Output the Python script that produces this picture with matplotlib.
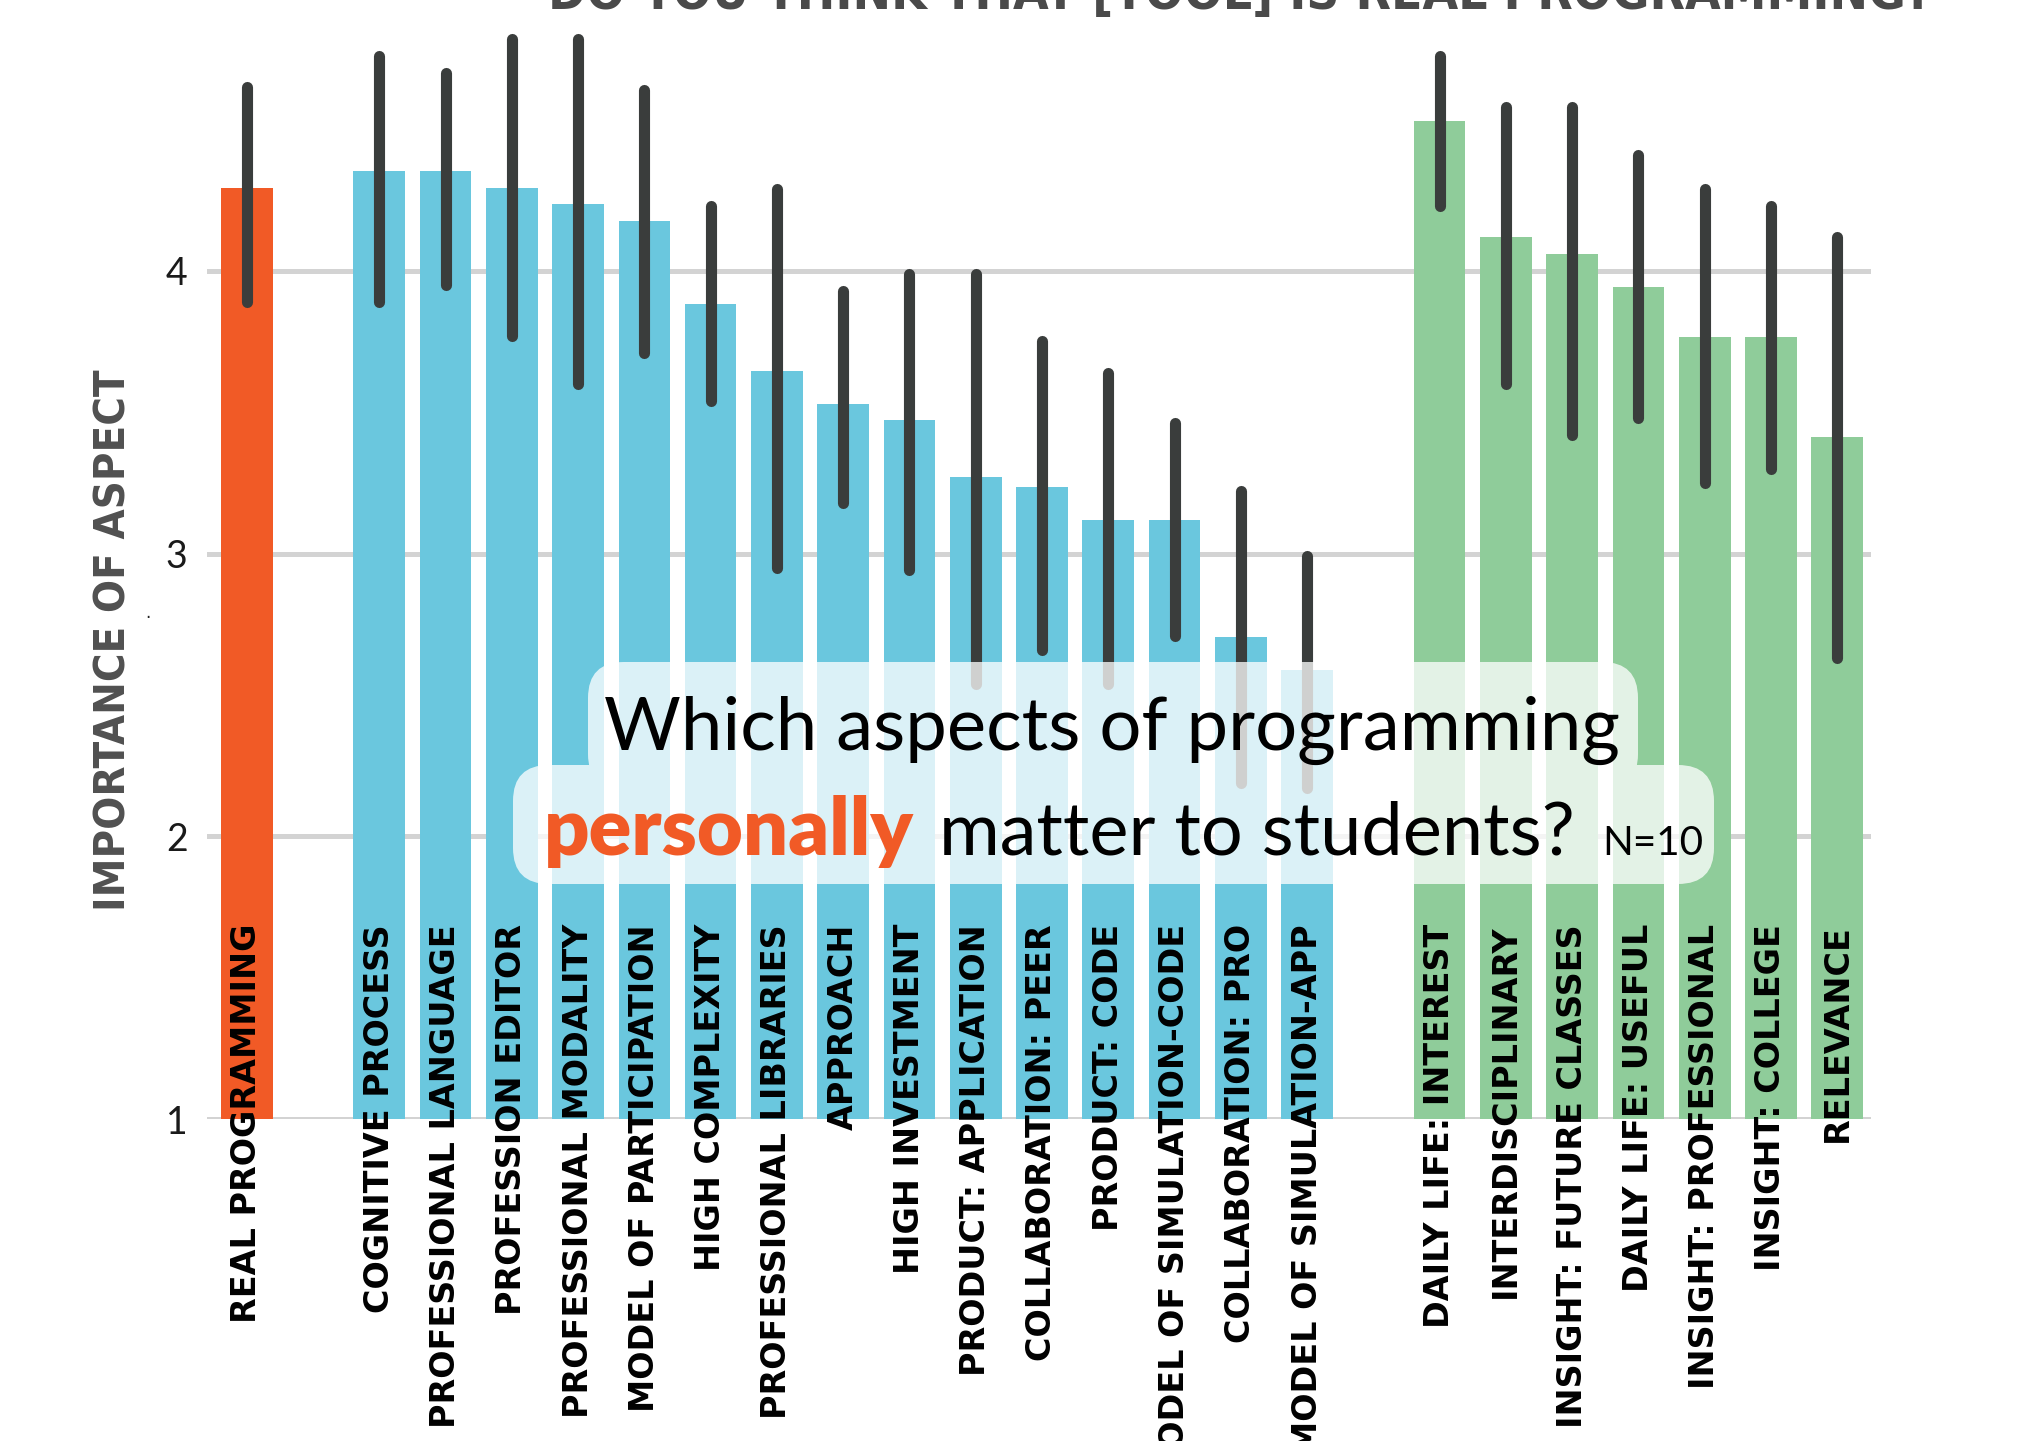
import numpy as np
import matplotlib
matplotlib.use('Agg')
import matplotlib.pyplot as plt
from matplotlib.patches import FancyBboxPatch, PathPatch
from matplotlib.path import Path
from matplotlib.transforms import IdentityTransform

# aspects, group of each aspect, mean importance and confidence interval
labels = ['REAL PROGRAMMING',
          'COGNITIVE PROCESS', 'PROFESSIONAL LANGUAGE', 'PROFESSION EDITOR',
          'PROFESSIONAL MODALITY', 'MODEL OF PARTICIPATION', 'HIGH COMPLEXITY',
          'PROFESSIONAL LIBRARIES', 'APPROACH', 'HIGH INVESTMENT',
          'PRODUCT: APPLICATION', 'COLLABORATION: PEER', 'PRODUCT: CODE',
          'MODEL OF SIMULATION-CODE', 'COLLABORATION: PRO', 'MODEL OF SIMULATION-APP',
          'DAILY LIFE: INTEREST', 'INTERDISCIPLINARY', 'INSIGHT: FUTURE CLASSES',
          'DAILY LIFE: USEFUL', 'INSIGHT: PROFESSIONAL', 'INSIGHT: COLLEGE',
          'RELEVANCE']
groups = ['real'] + ['tool'] * 15 + ['personal'] * 7
means = [4.294,
         4.353, 4.353, 4.294, 4.235, 4.176, 3.882, 3.647, 3.529, 3.471,
         3.27, 3.235, 3.118, 3.118, 2.706, 2.588,
         4.529, 4.118, 4.059, 3.941, 3.765, 3.765, 3.412]
ci_low = [3.89,
          3.89, 3.95, 3.77, 3.60, 3.71, 3.54, 2.95, 3.18, 2.94,
          2.54, 2.66, 2.54, 2.71, 2.19, 2.17,
          4.23, 3.60, 3.42, 3.48, 3.25, 3.30, 2.63]
ci_high = [4.65,
           4.76, 4.70, 4.82, 4.82, 4.64, 4.23, 4.29, 3.93, 3.99,
           3.99, 3.75, 3.64, 3.46, 3.22, 2.99,
           4.76, 4.58, 4.58, 4.41, 4.29, 4.23, 4.12]
group_colors = {'real': '#f15a26', 'tool': '#6ac7de', 'personal': '#8fcc9a'}

W, H = 2026, 1441
fig = plt.figure(figsize=(W / 100, H / 100), dpi=100)
renderer = fig.canvas.get_renderer()

ax_bottom = 1119
ax = fig.add_axes([207 / W, 1 - ax_bottom / H, (1871 - 207) / W, ax_bottom / H])

# one empty slot between groups
x = []
pos = 0
for i, g in enumerate(groups):
    if i > 0 and g != groups[i - 1]:
        pos += 1
    x.append(pos)
    pos += 1
x = np.array(x)

ax.bar(x, means, width=0.78, color=[group_colors[g] for g in groups], zorder=2, linewidth=0)
err = ax.vlines(x, ci_low, ci_high, colors='#3a3d3c', linewidth=8, zorder=3)
err.set_capstyle('round')

ax.set_xlim(-0.6, x[-1] + 0.51)
ax.set_ylim(1, 4 + 271 / 283)
ax.set_yticks([1, 2, 3, 4])
ax.set_xticks([])
ax.yaxis.grid(True, color='#d3d3d3', linewidth=3.6)
ax.set_axisbelow(True)
for s in ax.spines.values():
    s.set_visible(False)
ax.tick_params(axis='y', length=0, pad=14, labelsize=27, labelcolor='#1a1a1a')
for t in ax.get_yticklabels():
    t.set_family('Lato')


def fit_size(txt, target, **kw):
    t = fig.text(0, 0, txt, fontsize=20, **kw)
    w = t.get_window_extent(renderer=renderer).width
    t.remove()
    return 20 * target / w


# category labels, top aligned inside the bars
lab_size = fit_size('PROFESSIONAL LANGUAGE', 501, family='DejaVu Sans', weight='bold')
for xi, lab in zip(x, labels):
    ax.text(xi, 1.69, lab, rotation=90, ha='center', va='top', fontsize=lab_size,
            weight='bold', family='DejaVu Sans', color='black', zorder=6, clip_on=False)

# y label
yl_size = fit_size('IMPORTANCE OF ASPECT', 540, family='DejaVu Sans', weight='bold',
                   stretch='condensed')
fig.text(114 / W, 1 - 640 / H, 'IMPORTANCE OF ASPECT', rotation=90, ha='center', va='center',
         fontsize=yl_size, weight='bold', stretch='condensed', color='#505050')
fig.text(148 / W, 1 - 613 / H, '.', fontsize=12, ha='center', va='center', color='#222222')

# title, cut at the top edge
title = 'DO YOU THINK THAT [TOOL] IS REAL PROGRAMMING?'
ti_size = fit_size(title, 1382, family='DejaVu Sans', weight='bold', stretch='condensed')
fig.text(1240 / W, 1 - 9 / H, title, ha='center', va='baseline', fontsize=ti_size,
         weight='bold', stretch='condensed', color='#4a4a4a')


# translucent bubble behind the question
def rbox(x0, y0, x1, y1, r):
    p = FancyBboxPatch((x0, H - y1), x1 - x0, y1 - y0,
                       boxstyle='round,pad=0,rounding_size=%d' % r)
    return p.get_path()


bubble = Path.make_compound_path(rbox(588, 662, 1638, 790, 36), rbox(513, 765, 1714, 884, 36))
ax.add_patch(PathPatch(bubble, facecolor='white', alpha=0.76, edgecolor='none',
                       transform=IdentityTransform(), zorder=4, clip_on=False))

line1 = 'Which aspects of programming'
l1_size = fit_size(line1, 1018, family='Lato')
fig.text(1112 / W, 1 - 750 / H, line1, ha='center', va='baseline', fontsize=l1_size,
         family='Lato', color='black', zorder=7)

parts = [('personally', 371, dict(family='Lato', weight='heavy', color='#f15a26')),
         ('matter to students?', 637, dict(family='Lato', color='black')),
         ('N=10', 101, dict(family='Lato', color='black'))]
starts = [544, 939, 1602]
for (txt, wid, kw), xs in zip(parts, starts):
    sz = fit_size(txt, wid, **kw)
    if txt == 'N=10':
        sz = min(sz, 30)
    fig.text(xs / W, 1 - 855 / H, txt, ha='left', va='baseline', fontsize=sz, zorder=7, **kw)

fig.savefig('out.png', dpi=100)
